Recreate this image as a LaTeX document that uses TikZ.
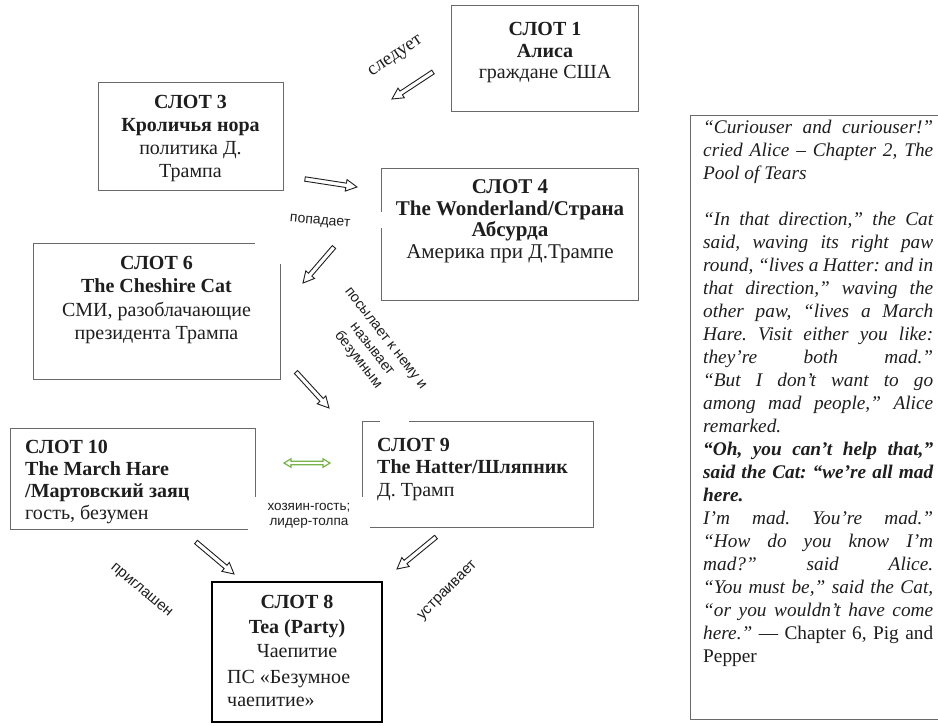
\documentclass[tikz,border=0pt]{standalone}
\usepackage{fontspec}
\setmainfont{Liberation Serif}
\newfontfamily\lsans{Liberation Sans}
\usetikzlibrary{calc}
\definecolor{boxgray}{HTML}{6A6A6A}
\definecolor{ink}{HTML}{1E1E1E}
\definecolor{arrowgreen}{HTML}{78B24A}

% hollow block arrow: #1 tail, #2 tip, #3 shaft half width, #4 head half width, #5 head length
\newcommand{\hollowarrow}[5]{%
  \coordinate (hb) at ($(#2)!#5!(#1)$);
  \filldraw[harrowline] ($(#1)!#3!90:(#2)$) -- ($(hb)!#3!90:(#2)$) -- ($(hb)!#4!90:(#2)$) -- (#2)
    -- ($(hb)!#4!-90:(#2)$) -- ($(hb)!#3!-90:(#2)$) -- ($(#1)!#3!-90:(#2)$) -- cycle;}

\newcommand{\jl}[1]{\hbox to 230pt{#1}}
\frenchspacing

\begin{document}
\begin{tikzpicture}[x=1pt,y=-1pt,
  slotbox/.style={draw=boxgray, line width=1pt, outer sep=0pt, inner sep=0pt, anchor=north west},
  slotbold/.style={draw=black, line width=2pt, outer sep=0pt, inner sep=0pt, anchor=north west},
  slottext/.style={text=ink, inner sep=0pt, align=center, anchor=north},
  slotleft/.style={text=ink, inner sep=0pt, align=left, anchor=north west},
  lbl/.style={text=ink, inner sep=0pt, align=center, font=\lsans\fontsize{14}{15.5}\selectfont},
  harrowline/.style={draw=ink, fill=white, line width=0.9pt, line join=miter},
  greenline/.style={draw=arrowgreen, fill=white, line width=1.2pt, line join=miter}]

\useasboundingbox (0,0) rectangle (938,726);
\fill[white] (0,0) rectangle (938,726);

% ---------- boxes ----------
\node[slotbox, minimum width=187pt, minimum height=106pt] (s1) at (451,5) {};
\node[slotbox, minimum width=185pt, minimum height=108pt] (s3) at (98,82) {};
\node[slotbox, minimum width=257pt, minimum height=132pt] (s4) at (381,168) {};
\node[slotbox, minimum width=247pt, minimum height=136pt] (s6) at (33,243) {};
\node[slotbox, minimum width=245pt, minimum height=101pt] (s10) at (10,428) {};
\node[slotbox, minimum width=231pt, minimum height=106pt] (s9) at (362,421) {};
\node[slotbold, minimum width=170pt, minimum height=140pt] (s8) at (212,582) {};
\draw[boxgray, line width=1pt] (945,115) -- (690,115) -- (690,719) -- (945,719);

% gaps in the frames
\fill[white] (255,236) rectangle (287,264);
\fill[white] (377,212) rectangle (386,228);
\fill[white] (380,416) rectangle (409,426);

% ---------- box texts ----------
\node[slottext, font=\fontsize{20}{21.5}\selectfont] (s1t) at (545,22.5) {\textbf{СЛОТ 1}\\\textbf{Алиса}\\граждане США};
\node[slottext, font=\fontsize{20}{23}\selectfont] (s3t) at (190.5,95) {\textbf{СЛОТ 3}\\\textbf{Кроличья нора}\\политика Д.\\Трампа};
\node[slottext, font=\fontsize{21}{21.5}\selectfont] (s4t) at (510,179.5) {\textbf{СЛОТ 4}\\\textbf{The Wonderland/Страна}\\\textbf{Абсурда}\\Америка при Д.Трампе};
\node[slottext, font=\fontsize{20}{23.3}\selectfont] (s6t) at (156.5,256) {\textbf{СЛОТ 6}\\\textbf{The Cheshire Cat}\\СМИ, разоблачающие\\президента Трампа};
\node[slotleft, font=\fontsize{20}{22.2}\selectfont] (s10t) at (25,439.5) {\textbf{СЛОТ 10}\\\textbf{The March Hare}\\\textbf{/Мартовский заяц}\\гость, безумен};
\node[slotleft, font=\fontsize{20}{22.5}\selectfont] (s9t) at (377,438) {\textbf{СЛОТ 9}\\\textbf{The Hatter/Шляпник}\\Д. Трамп};
\node[slottext, font=\fontsize{20}{24.5}\selectfont] (s8t) at (297,595) {\textbf{СЛОТ 8}\\\textbf{Tea (Party)}\\Чаепитие};
\node[slotleft, font=\fontsize{20}{23}\selectfont] (s8u) at (227,670) {ПС «Безумное\\чаепитие»};

% ---------- quote ----------
\node[slotleft, font=\fontsize{19.3}{23}\selectfont\itshape] (q) at (703,120) {%
\jl{“Curiouser and curiouser!”}\\
\jl{cried Alice – Chapter 2, The}\\
Pool of Tears\\[23pt]
\jl{“In that direction,” the Cat}\\
\jl{said, waving its right paw}\\
\jl{round, “lives a Hatter: and in}\\
\jl{that direction,” waving the}\\
\jl{other paw, “lives a March}\\
\jl{Hare. Visit either you like:}\\
\jl{they’re both mad.”}\\
\jl{“But I don’t want to go}\\
\jl{among mad people,” Alice}\\
remarked.\\
\jl{\bfseries “Oh, you can’t help that,”}\\
\jl{\bfseries said the Cat: “we’re all mad}\\
\textbf{here.}\\
\jl{I’m mad. You’re mad.”}\\
\jl{“How do you know I’m}\\
\jl{mad?” said Alice.}\\
\jl{“You must be,” said the Cat,}\\
\jl{“or you wouldn’t have come}\\
\jl{here.” \upshape — Chapter 6, Pig and}\\
\upshape Pepper};

% ---------- arrows ----------
\coordinate (a1t) at (433,72);  \coordinate (a1h) at (392,99);
\coordinate (a2t) at (305,179); \coordinate (a2h) at (357,187);
\coordinate (a3t) at (334,247); \coordinate (a3h) at (303,283);
\coordinate (a4t) at (296,372); \coordinate (a4h) at (329,408);
\coordinate (a5t) at (196,542); \coordinate (a5h) at (234,574);
\coordinate (a6t) at (436,537); \coordinate (a6h) at (397,569);
\hollowarrow{a1t}{a1h}{2.2pt}{5.8pt}{11pt}
\hollowarrow{a2t}{a2h}{2.2pt}{5.8pt}{11pt}
\hollowarrow{a3t}{a3h}{2.2pt}{5.8pt}{11pt}
\hollowarrow{a4t}{a4h}{2.2pt}{5.8pt}{11pt}
\hollowarrow{a5t}{a5h}{2.2pt}{5.8pt}{11pt}
\hollowarrow{a6t}{a6h}{2.2pt}{5.8pt}{11pt}

% green double arrow
\coordinate (g1) at (284,463); \coordinate (g2) at (330,463);
\coordinate (gb1) at ($(g2)!7pt!(g1)$); \coordinate (gb2) at ($(g1)!7pt!(g2)$);
\filldraw[greenline] ($(gb2)!1.8pt!90:(g2)$) -- ($(gb1)!1.8pt!-90:(g1)$) -- ($(gb1)!4.2pt!-90:(g1)$) -- (g2)
  -- ($(gb1)!4.2pt!90:(g1)$) -- ($(gb1)!1.8pt!90:(g1)$) -- ($(gb2)!1.8pt!-90:(g2)$)
  -- ($(gb2)!4.2pt!-90:(g2)$) -- (g1) -- ($(gb2)!4.2pt!90:(g2)$) -- cycle;

% ---------- labels ----------
\node[lbl, rotate=34, font=\fontsize{19}{21}\selectfont] (l1) at (396,57) {следует};
\node[lbl, rotate=-5] (l2) at (320,222) {попадает};
\node[lbl, rotate=-52, font=\lsans\fontsize{14.5}{17.5}\selectfont] (l3) at (371,350) {посылает к нему и\\называет\\безумным};
\node[lbl, rotate=-40, font=\lsans\fontsize{15}{17}\selectfont] (l4) at (141,591) {приглашен};
\node[lbl, rotate=45, font=\lsans\fontsize{15}{17}\selectfont] (l5) at (448,591) {устраивает};
\node[lbl, fill=white, minimum width=122pt, minimum height=38pt, font=\lsans\fontsize{13.5}{15.5}\selectfont] (l6) at (309,516) {хозяин-гость;\\лидер-толпа};
\end{tikzpicture}
\end{document}
